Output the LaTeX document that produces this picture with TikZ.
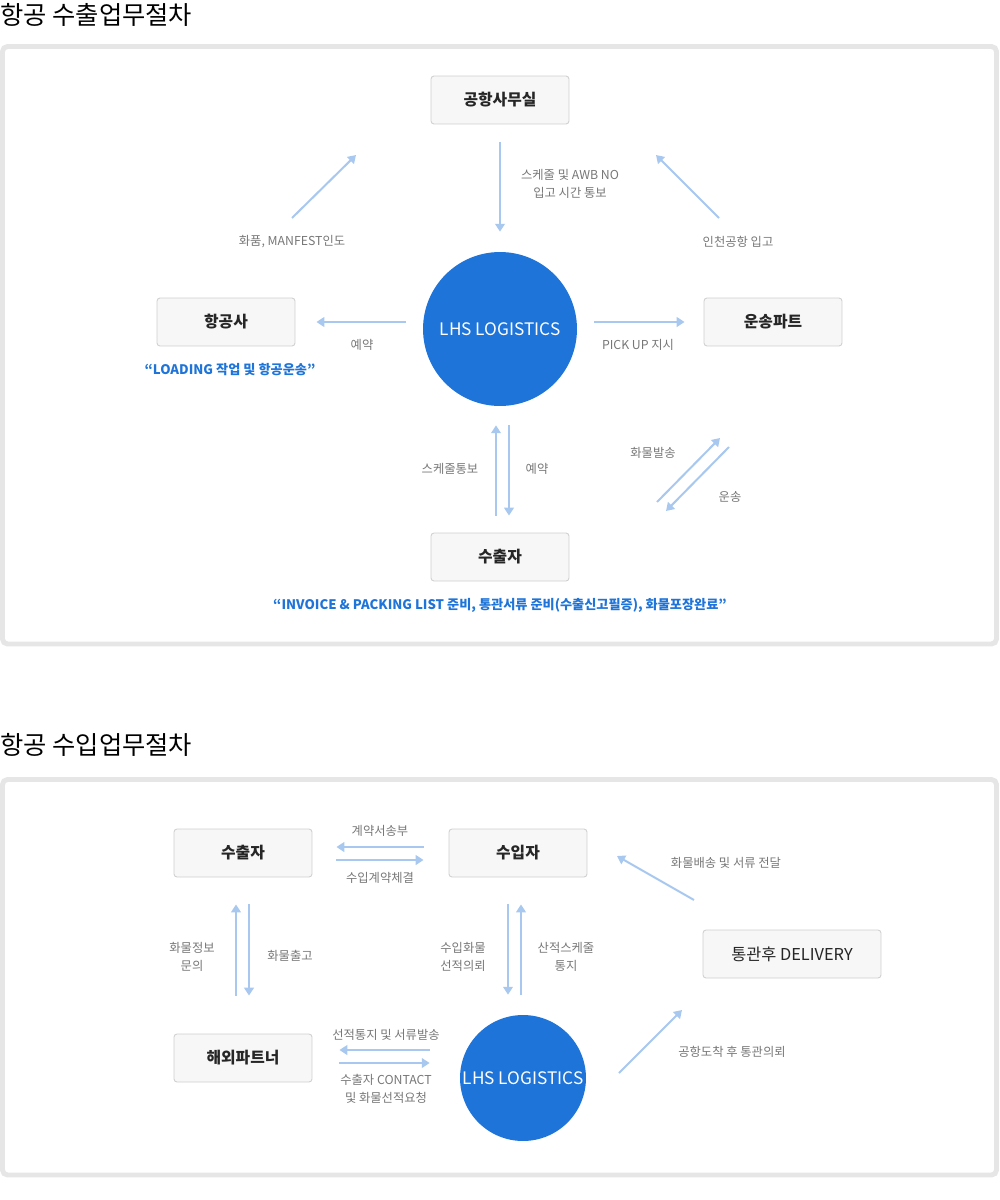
\documentclass[tikz,border=0pt]{standalone}
\usepackage{fontspec}
\setmainfont{Noto Sans CJK KR}
\usepackage{tikz}
\usetikzlibrary{arrows.meta,calc}
\definecolor{lhsblue}{HTML}{1E74D8}
\definecolor{arrowblue}{HTML}{A8C8EF}
\definecolor{framegray}{HTML}{E6E6E6}
\definecolor{boxgray}{HTML}{F7F7F7}
\definecolor{boxline}{HTML}{CFCFCF}
\definecolor{labelgray}{HTML}{777777}
\tikzset{
	box/.style={draw=boxline, fill=boxgray, line width=0.5pt, rounded corners=0.6mm, minimum width=27.6mm, minimum height=9.6mm, inner sep=0, text=black!85, font=\fontsize{9}{10}\selectfont\bfseries},
	hub/.style={circle, fill=lhsblue, inner sep=0, text=white, font=\fontsize{9.8}{11}\selectfont},
	arr/.style={draw=arrowblue, line width=1.15pt, -{Triangle[length=4.5pt,width=5.5pt]}},
	lbl/.style={inner sep=0, align=center, text=labelgray, font=\fontsize{7}{10.2}\selectfont},
	note/.style={inner sep=0, text=lhsblue, font=\fontsize{7.5}{9}\selectfont\bfseries},
	frame/.style={draw=framegray, line width=2.8pt, rounded corners=1mm},
	heading/.style={inner sep=0, anchor=west, font=\fontsize{14.4}{16}\selectfont}
}

\begin{document}
\begin{tikzpicture}[x=0.02cm, y=-0.02cm]
	\useasboundingbox (0,0) rectangle (1000,1200);
	
	%export
	\node[heading] (title1) at (0,15) {항공 수출업무절차};
	\draw[frame] (2.5,46.5) rectangle (996.5,644);
	
	\node[box] (office) at (500,100) {공항사무실};
	\node[box] (airline) at (226,322) {항공사};
	\node[box] (trans) at (773,322) {운송파트};
	\node[box] (shipper) at (500,557) {수출자};
	\node[hub, minimum size=30.8mm] (lhsA) at (500,329) {LHS LOGISTICS};
	
	\draw[arr, shorten <=3.6mm, shorten >=4mm] (office) -- (lhsA);
	\draw[arr, shorten <=3.4mm, shorten >=4.2mm] (airline.east -| lhsA.west) -- (airline.east);
	\draw[arr, shorten <=3.4mm, shorten >=3.8mm] (trans.west -| lhsA.east) -- (trans.west);
	\draw[arr, shorten <=3.4mm, shorten >=3.8mm] ([xshift=-0.8mm]shipper.north) -- ([xshift=-0.8mm]lhsA.south);
	\draw[arr, shorten <=3.8mm, shorten >=3.4mm] ([xshift=1.8mm]lhsA.south) -- ([xshift=1.8mm]shipper.north);
	
	\coordinate (a1s) at (292,218); \coordinate (a1e) at (356,155);
	\coordinate (a2s) at (719,218); \coordinate (a2e) at (656,155);
	\coordinate (a3s) at (657,502); \coordinate (a3e) at (720,438);
	\coordinate (a4s) at (729,447); \coordinate (a4e) at (666,511);
	\draw[arr] (a1s) -- (a1e);
	\draw[arr] (a2s) -- (a2e);
	\draw[arr] (a3s) -- (a3e);
	\draw[arr] (a4s) -- (a4e);
	
	\node[lbl] (l1) at (570,184) {스케줄 및 AWB NO\\입고 시간 통보};
	\node[lbl] (l2) at (292,242) {화품, MANFEST인도};
	\node[lbl] (l3) at (738,242) {인천공항 입고};
	\node[lbl] (l4) at (362,345) {예약};
	\node[lbl] (l5) at (638,345) {PICK UP 지시};
	\node[lbl] (l6) at (450,469) {스케줄통보};
	\node[lbl] (l7) at (537,469) {예약};
	\node[lbl] (l8) at (653,453) {화물발송};
	\node[lbl] (l9) at (730,497) {운송};
	\node[note] (n1) at (230,370) {“LOADING 작업 및 항공운송”};
	\node[note] (n2) at (500,605) {“INVOICE \& PACKING LIST 준비, 통관서류 준비(수출신고필증), 화물포장완료”};
	
	%import
	\node[heading] (title2) at (0,745) {항공 수입업무절차};
	\draw[frame] (2.5,779.5) rectangle (996.5,1175);
	
	\node[box] (exporter) at (243,853) {수출자};
	\node[box] (importer) at (518,853) {수입자};
	\node[box] (partner) at (243,1058) {해외파트너};
	\node[box, minimum width=35.6mm, font=\fontsize{9.3}{10}\selectfont] (delivery) at (792,954) {통관후 DELIVERY};
	\node[hub, minimum size=25.2mm] (lhsB) at (523,1078) {LHS LOGISTICS};
	
	\draw[arr, shorten <=5mm, shorten >=4.8mm] ([yshift=1.2mm]importer.west) -- ([yshift=1.2mm]exporter.east);
	\draw[arr, shorten <=4.8mm, shorten >=5mm] ([yshift=-1.4mm]exporter.east) -- ([yshift=-1.4mm]importer.west);
	\draw[arr, shorten <=7.6mm, shorten >=5.4mm] ([xshift=-1.4mm]partner.north) -- ([xshift=-1.4mm]exporter.south);
	\draw[arr, shorten <=5.4mm, shorten >=7.6mm] ([xshift=1.2mm]exporter.south) -- ([xshift=1.2mm]partner.north);
	\draw[arr, shorten <=5.4mm, shorten >=4mm] ([xshift=-2mm]importer.south) -- ([xshift=-2mm]importer.south |- lhsB.north);
	\draw[arr, shorten <=4mm, shorten >=5.4mm] ([xshift=0.6mm]importer.south |- lhsB.north) -- ([xshift=0.6mm]importer.south);
	\draw[arr, shorten <=6mm, shorten >=5.4mm] ([yshift=1.6mm]partner.east -| lhsB.west) -- ([yshift=1.6mm]partner.east);
	\draw[arr, shorten <=5.4mm, shorten >=6mm] ([yshift=-1mm]partner.east) -- ([yshift=-1mm]partner.east -| lhsB.west);
	
	\coordinate (b1s) at (694,900); \coordinate (b1e) at (617,856);
	\coordinate (b2s) at (619,1073); \coordinate (b2e) at (682,1010);
	\draw[arr] (b1s) -- (b1e);
	\draw[arr] (b2s) -- (b2e);
	
	\node[lbl] (m1) at (380,831) {계약서송부};
	\node[lbl] (m2) at (380,878) {수입계약체결};
	\node[lbl] (m3) at (192,957) {화물정보\\문의};
	\node[lbl] (m4) at (290,956) {화물출고};
	\node[lbl] (m5) at (463,957) {수입화물\\선적의뢰};
	\node[lbl] (m6) at (566,957) {산적스케줄\\통지};
	\node[lbl] (m7) at (386,1035) {선적통지 및 서류발송};
	\node[lbl] (m8) at (386,1089) {수출자 CONTACT\\및 화물선적요청};
	\node[lbl] (m9) at (726,863) {화물배송 및 서류 전달};
	\node[lbl] (m10) at (732,1052) {공항도착 후 통관의뢰};
	
\end{tikzpicture}
\end{document}
